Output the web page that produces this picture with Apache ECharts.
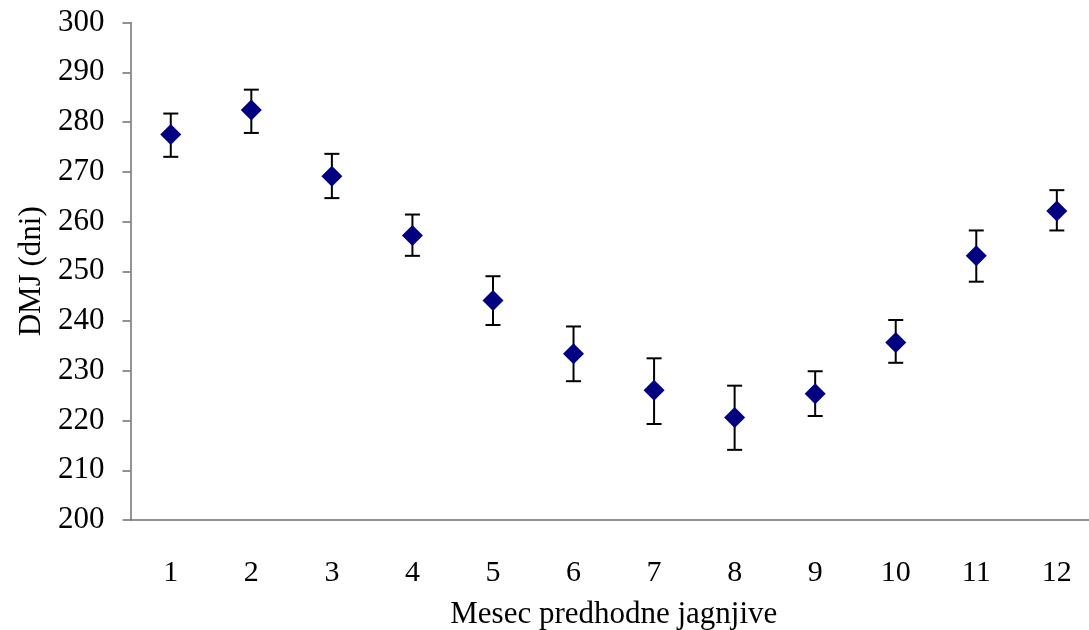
<!DOCTYPE html>
<html>
<head>
<meta charset="utf-8">
<script src="https://cdn.jsdelivr.net/npm/echarts@6/dist/echarts.min.js"></script>
<style>
html,body{margin:0;padding:0;background:#fff;}
#chart{width:1089px;height:630px;}
</style>
</head>
<body>
<div id="chart"></div>
<script>
const categories = ['1','2','3','4','5','6','7','8','9','10','11','12'];
const means = [277.5, 282.4, 269.1, 257.2, 244.1, 233.4, 226.1, 220.6, 225.4, 235.7, 253.1, 262.1];
const lower = [273.0, 277.8, 264.7, 253.1, 239.2, 227.9, 219.3, 214.1, 220.9, 231.6, 247.9, 258.2];
const upper = [281.7, 286.5, 273.6, 261.4, 249.0, 238.9, 232.5, 227.0, 229.9, 240.2, 258.2, 266.3];
const yTicks = [200, 210, 220, 230, 240, 250, 260, 270, 280, 290, 300];

const errData = categories.map((c, i) => [i, lower[i], upper[i]]);
const fontFam = '"Liberation Serif", "Times New Roman", serif';
const axisCol = '#707070';

const chart = echarts.init(document.getElementById('chart'));
chart.setOption({
  backgroundColor: '#fff',
  animation: false,
  grid: { left: 130.5, width: 966.6, top: 22.5, bottom: 110, outerBoundsMode: 'none', containLabel: false },
  xAxis: {
    type: 'category',
    data: categories,
    boundaryGap: true,
    name: 'Mesec predhodne jagnjive',
    nameLocation: 'middle',
    nameGap: 79,
    nameTextStyle: { fontFamily: fontFam, fontSize: 31, color: '#000' },
    axisLine: { lineStyle: { color: axisCol, width: 1.5 } },
    axisTick: { length: 9, lineStyle: { color: axisCol, width: 1.5 } },
    axisLabel: { fontFamily: fontFam, fontSize: 30, color: '#000', margin: 38 },
    splitLine: { show: false }
  },
  yAxis: {
    type: 'value',
    min: yTicks[0],
    max: yTicks[yTicks.length - 1],
    interval: 10,
    name: 'DMJ (dni)',
    nameLocation: 'middle',
    nameGap: 83,
    nameTextStyle: { fontFamily: fontFam, fontSize: 31, color: '#000' },
    axisLine: { show: true, lineStyle: { color: axisCol, width: 1.5 } },
    axisTick: { show: true, length: 8, lineStyle: { color: axisCol, width: 1.5 } },
    axisLabel: { fontFamily: fontFam, fontSize: 31, color: '#000', margin: 26, padding: [5, 0, 0, 0] },
    splitLine: { show: false }
  },
  series: [
    {
      type: 'custom',
      data: errData,
      z: 1,
      renderItem: function (params, api) {
        const x = api.value(0);
        const lo = api.coord([x, api.value(1)]);
        const hi = api.coord([x, api.value(2)]);
        const hw = 7.5;
        const st = { stroke: '#000', lineWidth: 2 };
        return {
          type: 'group',
          children: [
            { type: 'line', shape: { x1: lo[0], y1: lo[1], x2: hi[0], y2: hi[1] }, style: st },
            { type: 'line', shape: { x1: lo[0] - hw, y1: lo[1], x2: lo[0] + hw, y2: lo[1] }, style: st },
            { type: 'line', shape: { x1: hi[0] - hw, y1: hi[1], x2: hi[0] + hw, y2: hi[1] }, style: st }
          ]
        };
      }
    },
    {
      type: 'scatter',
      data: means,
      symbol: 'diamond',
      symbolSize: 21,
      z: 5,
      itemStyle: { color: '#000080', opacity: 1 }
    }
  ]
});
</script>
</body>
</html>
